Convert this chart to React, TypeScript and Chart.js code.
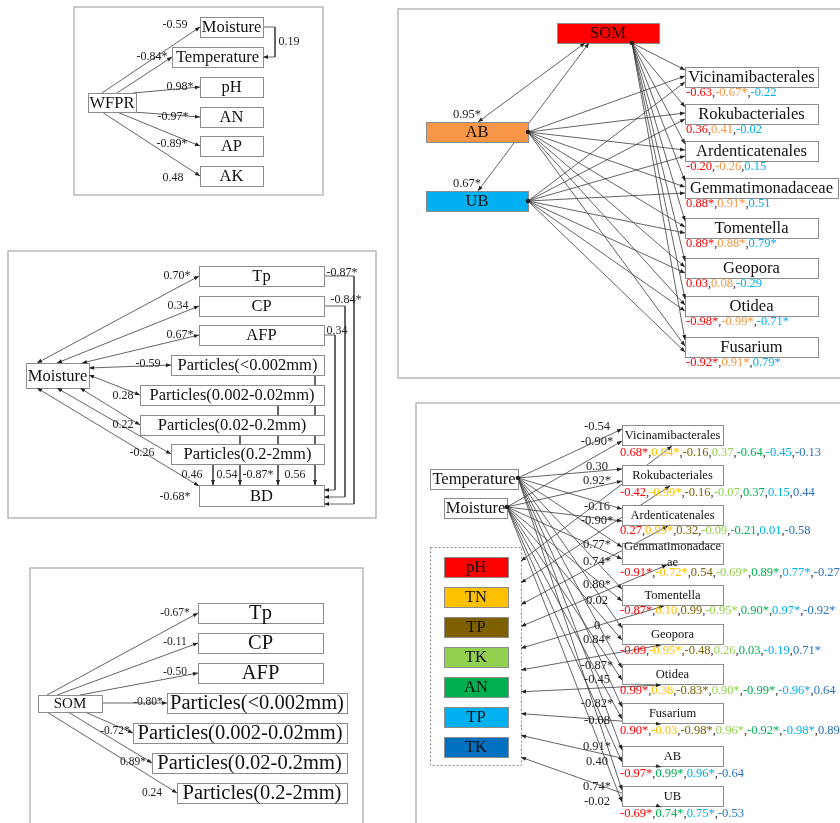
import React, { useEffect, useRef } from "react";
import { Chart, registerables } from "chart.js";

Chart.register(...registerables);

// ================= DATA =================
// Panel A: WFPR -> soil properties
const wfprTargets = ["Moisture", "Temperature", "pH", "AN", "AP", "AK"];
const wfprCoefs = ["-0.59", "-0.84*", "0.98*", "-0.97*", "-0.89*", "0.48"];
const moistureTemperatureCoef = "0.19";

// Panel B / C: soil structure variables
const structureVars = [
  "Tp",
  "CP",
  "AFP",
  "Particles(<0.002mm)",
  "Particles(0.002-0.02mm)",
  "Particles(0.02-0.2mm)",
  "Particles(0.2-2mm)",
];
const moistureStructCoefs = ["0.70*", "0.34", "0.67*", "-0.59", "0.28", "0.22", "-0.26"];
const structBDCoefs = ["-0.87*", "-0.84*", "0.34", "0.56", "-0.87*", "0.54", "0.46"];
const moistureBDCoef = "-0.68*";
const somStructCoefs = ["-0.67*", "-0.11", "-0.50", "-0.80*", "-0.72*", "0.89*", "0.24"];

// Panel D: SOM / AB / UB -> taxa
const taxa = [
  "Vicinamibacterales",
  "Rokubacteriales",
  "Ardenticatenales",
  "Gemmatimonadaceae",
  "Tomentella",
  "Geopora",
  "Otidea",
  "Fusarium",
];
const somTaxaCoefs = ["-0.63", "0.36", "-0.20", "0.88*", "0.89*", "0.03", "-0.98*", "-0.92*"];
const abTaxaCoefs = ["-0.67*", "0.41", "-0.26", "0.91*", "0.88*", "0.08", "-0.99*", "0.91*"];
const ubTaxaCoefs = ["-0.22", "-0.02", "0.15", "0.51", "0.79*", "-0.29", "-0.71*", "0.79*"];
const somABCoef = "0.95*";
const somUBCoef = "0.67*";

// Panel E: Temperature / Moisture / soil nutrients -> taxa, AB, UB
const envTargets = [
  "Vicinamibacterales",
  "Rokubacteriales",
  "Ardenticatenales",
  "Gemmatimonadaceae",
  "Tomentella",
  "Geopora",
  "Otidea",
  "Fusarium",
  "AB",
  "UB",
];
const temperatureEnvCoefs = ["-0.54", "0.30", "-0.16", "0.77*", "0.80*", "0", "-0.87*", "-0.82*", "0.91*", "0.74*"];
const moistureEnvCoefs = ["-0.90*", "0.92*", "-0.90*", "0.74*", "0.02", "0.84*", "-0.45", "-0.08", "0.40", "-0.02"];
const soilFactors = ["pH", "TN", "TP", "TK", "AN", "TP", "TK"];
const pHCoefs = ["0.68*", "-0.42", "0.27", "-0.91*", "-0.87*", "-0.09", "0.99*", "0.90*", "-0.97*", "-0.69*"];
const tnCoefs = ["0.94*", "-0.99*", "0.99*", "-0.72*", "0.10", "-0.95*", "0.38", "-0.03", null, null];
const tpCoefs = ["-0.16", "-0.16", "0.32", "0.54", "0.99", "-0.48", "-0.83*", "-0.98*", null, null];
const tkCoefs = ["0.37", "-0.07", "-0.09", "-0.69*", "-0.95*", "0.26", "0.90*", "0.96*", null, null];
const anCoefs = ["-0.64", "0.37", "-0.21", "0.89*", "0.90*", "0.03", "-0.99*", "-0.92*", "0.99*", "0.74*"];
const availTPCoefs = ["-0.45", "0.15", "0.01", "0.77*", "0.97*", "-0.19", "-0.96*", "-0.98*", "0.96*", "0.75*"];
const availTKCoefs = ["-0.13", "0.44", "-0.58", "-0.27", "-0.92*", "0.71*", "0.64", "0.89", "-0.64", "-0.53"];

// ================= STYLE / LAYOUT =================
const SERIF = '"Liberation Serif", "Times New Roman", serif';
const LINE = "#3c3c3c";
const BOX_STROKE = "#8c8c8c";
const FRAME = "#bdbdbd";
const COMMA = "#333333";
const factorFill = ["#FF0000", "#FFC000", "#7F6000", "#92D050", "#00B050", "#00B0F0", "#0070C0"];
const factorText = ["#FF0000", "#FFC000", "#7F6000", "#92D050", "#00B050", "#00B0F0", "#2A72C0"];
const somColor = "#FF0000";
const abColor = "#F79646";
const ubColor = "#00B0F0";

type Pt = number[];
type Edge = { pts: Pt[]; end?: boolean; start?: boolean };
type Box = { r: number[]; text: string; font: number; fill?: string; lines?: { t: string; dy: number }[] };
type Txt = { x: number; y: number; text: string; font: number; color?: string; align?: CanvasTextAlign };
type Run = { x: number; y: number; font: number; parts: { t: string; c: string }[] };

function buildDiagram() {
  const edges: Edge[] = [];
  const boxes: Box[] = [];
  const texts: Txt[] = [];
  const runs: Run[] = [];
  const dots: Pt[] = [];
  const frames = [
    [74, 7, 249, 188],
    [8, 251, 368, 267],
    [30, 568, 333, 300],
    [398, 9, 460, 369],
    [416, 403, 460, 460],
  ];

  // ---------- Panel 1 ----------
  const p1Targets = [
    [200, 17, 63, 20],
    [172, 47, 91, 20],
    [200, 77, 63, 20],
    [200, 107, 63, 20],
    [200, 136, 63, 20],
    [200, 166, 63, 20],
  ];
  const p1Starts = [[102, 93], [117, 93], [133, 93], [133, 112], [117, 112], [102, 112]];
  const p1Labels = [[175, 25], [152, 57], [180, 87], [173, 117], [172, 144], [173, 178]];
  boxes.push({ r: [88, 93, 48, 19], text: "WFPR", font: 16.5 });
  wfprTargets.forEach((name, i) => {
    const r = p1Targets[i];
    boxes.push({ r, text: name, font: 16.5 });
    edges.push({ pts: [p1Starts[i], [r[0], r[1] + r[3] / 2]], end: true });
    texts.push({ x: p1Labels[i][0], y: p1Labels[i][1], text: wfprCoefs[i], font: 12 });
  });
  edges.push({ pts: [[263, 27], [275, 27], [275, 57], [263, 57]], end: true });
  texts.push({ x: 289, y: 42, text: moistureTemperatureCoef, font: 12 });

  // ---------- Panel 2 ----------
  const p2Boxes = [
    [199, 266, 125, 20],
    [199, 296, 125, 20],
    [199, 325, 125, 20],
    [171, 355, 153, 20],
    [140, 385, 184, 20],
    [140, 415, 184, 20],
    [171, 444, 153, 20],
  ];
  const p2MoistEnds = [[37, 363], [57, 363], [82, 363], [89, 368], [89, 375], [80, 388], [57, 388]];
  const p2Labels = [[177, 276], [178, 306], [180, 335], [148, 364], [123, 396], [123, 425], [142, 453]];
  const moist2 = [26, 363, 63, 25];
  const bd = [199, 485, 125, 21];
  boxes.push({ r: moist2, text: "Moisture", font: 16.5 });
  boxes.push({ r: bd, text: "BD", font: 16.5 });
  structureVars.forEach((name, i) => {
    const r = p2Boxes[i];
    boxes.push({ r, text: name, font: 16.5 });
    edges.push({ pts: [[r[0], r[1] + r[3] / 2], p2MoistEnds[i]], end: true, start: true });
    texts.push({ x: p2Labels[i][0], y: p2Labels[i][1], text: moistureStructCoefs[i], font: 12 });
  });
  edges.push({ pts: [[199, 486], [37, 388]], end: true, start: true });
  texts.push({ x: 175, y: 497, text: moistureBDCoef, font: 12 });
  // porosity -> BD connectors
  const p2Right = [[354, 504], [345, 497], [335, 490]];
  const p2RightLabels = [[342, 273], [346, 300], [337, 331]];
  for (let i = 0; i < 3; i++) {
    const r = p2Boxes[i];
    const cy = r[1] + r[3] / 2;
    const [vx, by] = p2Right[i];
    edges.push({ pts: [[324, cy], [vx, cy], [vx, by], [324, by]], end: true });
    texts.push({ x: p2RightLabels[i][0], y: p2RightLabels[i][1], text: structBDCoefs[i], font: 12 });
  }
  // particles -> BD
  const p2Vert = [315, 278, 240, 213];
  const p2VertLabels = [295, 258, 227, 192];
  for (let k = 0; k < 4; k++) {
    const r = p2Boxes[3 + k];
    edges.push({ pts: [[p2Vert[k], r[1] + r[3]], [p2Vert[k], 485]], end: true });
    texts.push({ x: p2VertLabels[k], y: 475, text: structBDCoefs[3 + k], font: 12 });
  }

  // ---------- Panel 3 ----------
  const p3Boxes = [
    [198, 603, 125, 20],
    [198, 633, 125, 20],
    [198, 663, 125, 20],
    [167, 693, 180, 20],
    [133, 723, 214, 20],
    [152, 753, 195, 20],
    [177, 783, 170, 20],
  ];
  const p3Starts = [[47, 695], [57, 695], [80, 695], [102, 703], [85, 712], [68, 712], [47, 712]];
  const p3Labels = [[175, 613], [175, 642], [175, 672], [148, 702], [115, 731], [133, 762], [152, 793]];
  boxes.push({ r: [38, 695, 64, 17], text: "SOM", font: 15 });
  structureVars.forEach((name, i) => {
    const r = p3Boxes[i];
    boxes.push({ r, text: name, font: 20.5 });
    edges.push({ pts: [p3Starts[i], [r[0], r[1] + r[3] / 2]], end: true });
    texts.push({ x: p3Labels[i][0], y: p3Labels[i][1], text: somStructCoefs[i], font: 11.5 });
  });

  // ---------- Panel 4 ----------
  const taxaTops4 = [67, 104, 141, 178, 218, 258, 296, 337];
  boxes.push({ r: [557, 23, 102, 20], text: "SOM", font: 16.5, fill: somColor });
  boxes.push({ r: [426, 122, 102, 20], text: "AB", font: 16.5, fill: abColor });
  boxes.push({ r: [426, 191, 102, 20], text: "UB", font: 16.5, fill: ubColor });
  edges.push({ pts: [[478, 122], [585, 43]], end: true, start: true });
  edges.push({ pts: [[478, 191], [589, 43]], end: true, start: true });
  texts.push({ x: 467, y: 115, text: somABCoef, font: 12.5 });
  texts.push({ x: 467, y: 184, text: somUBCoef, font: 12.5 });
  dots.push([632, 43], [528, 132], [528, 201]);
  taxa.forEach((name, i) => {
    const top = taxaTops4[i];
    const w = name === "Gemmatimonadaceae" ? 153 : 133;
    boxes.push({ r: [685, top, w, 20], text: name, font: 16.5 });
    edges.push({ pts: [[632, 43], [685, top + 3]], end: true });
    edges.push({ pts: [[528, 132], [685, top + 9]], end: true });
    edges.push({ pts: [[528, 201], [685, top + 15]], end: true });
    runs.push({
      x: 686,
      y: top + 26,
      font: 12.5,
      parts: [
        { t: somTaxaCoefs[i], c: somColor },
        { t: ",", c: COMMA },
        { t: abTaxaCoefs[i], c: abColor },
        { t: ",", c: COMMA },
        { t: ubTaxaCoefs[i], c: ubColor },
      ],
    });
  });

  // ---------- Panel 5 ----------
  const tops5 = [425, 465, 505, 543, 585, 624, 664, 703, 746, 786];
  const rowY5 = [453, 493, 531, 573, 611, 651, 691, 731, 774, 814];
  const tLabY = [427, 467, 507, 545, 585, 626, 666, 704, 747, 787];
  const mLabY = [442, 481, 521, 562, 601, 640, 680, 721, 762, 802];
  const legendEndX = [672, 670, 668, 667, 664, 661, 661, 661, 661, 661];
  boxes.push({ r: [430, 469, 88, 20], text: "Temperature", font: 16.5 });
  boxes.push({ r: [444, 498, 63, 20], text: "Moisture", font: 16.5 });
  dots.push([518, 478], [507, 507]);
  const factorSeries = [pHCoefs, tnCoefs, tpCoefs, tkCoefs, anCoefs, availTPCoefs, availTKCoefs];
  envTargets.forEach((name, i) => {
    const top = tops5[i];
    const h = name === "Gemmatimonadaceae" ? 21 : 20;
    if (name === "Gemmatimonadaceae") {
      boxes.push({
        r: [622, top, 101, h],
        text: name,
        font: 12.5,
        lines: [
          { t: "Gemmatimonadace", dy: 4 },
          { t: "ae", dy: 20 },
        ],
      });
    } else {
      boxes.push({ r: [622, top, 101, h], text: name, font: 12.5 });
    }
    edges.push({ pts: [[518, 478], [622, top + 4]], end: true });
    edges.push({ pts: [[507, 507], [622, top + 16]], end: true });
    texts.push({ x: 597, y: tLabY[i], text: temperatureEnvCoefs[i], font: 12.5 });
    texts.push({ x: 597, y: mLabY[i], text: moistureEnvCoefs[i], font: 12.5 });
    edges.push({ pts: [[521, 561 + 21.8 * i], [legendEndX[i], top + h + 1]], end: true, start: true });
    const parts: { t: string; c: string }[] = [];
    factorSeries.forEach((series, f) => {
      const v = series[i];
      if (v === null || v === undefined) return;
      if (parts.length) parts.push({ t: ",", c: COMMA });
      parts.push({ t: v, c: factorText[f] });
    });
    runs.push({ x: 620, y: rowY5[i], font: 12.5, parts });
  });
  soilFactors.forEach((name, f) => {
    boxes.push({ r: [444, 557 + 30 * f, 64, 20], text: name, font: 16.5, fill: factorFill[f] });
  });
  const legendFrame = [430, 547, 91, 218];

  return { edges, boxes, texts, runs, dots, frames, legendFrame };
}

export default function App() {
  const ref = useRef<HTMLCanvasElement>(null);

  useEffect(() => {
    const canvas = ref.current;
    if (!canvas) return;
    const d = buildDiagram();

    const diagramPlugin = {
      id: "pathDiagram",
      beforeDatasetsDraw(chart: any) {
        const ctx: CanvasRenderingContext2D = chart.ctx;
        const sx = chart.scales.x;
        const sy = chart.scales.y;
        const X = (v: number) => sx.getPixelForValue(v);
        const Y = (v: number) => sy.getPixelForValue(v);
        ctx.save();
        ctx.fillStyle = "#ffffff";
        ctx.fillRect(0, 0, chart.width, chart.height);
        ctx.strokeStyle = FRAME;
        ctx.lineWidth = 1.6;
        d.frames.forEach((f) => {
          ctx.strokeRect(X(f[0]), Y(f[1]), X(f[0] + f[2]) - X(f[0]), Y(f[1] + f[3]) - Y(f[1]));
        });
        ctx.restore();
      },
      afterDatasetsDraw(chart: any) {
        const ctx: CanvasRenderingContext2D = chart.ctx;
        const sx = chart.scales.x;
        const sy = chart.scales.y;
        const X = (v: number) => sx.getPixelForValue(v);
        const Y = (v: number) => sy.getPixelForValue(v);
        ctx.save();

        // legend dotted frame
        const lf = d.legendFrame;
        ctx.setLineDash([2, 2]);
        ctx.strokeStyle = "#8a8a8a";
        ctx.lineWidth = 1;
        ctx.strokeRect(X(lf[0]) + 0.5, Y(lf[1]) + 0.5, X(lf[0] + lf[2]) - X(lf[0]), Y(lf[1] + lf[3]) - Y(lf[1]));
        ctx.setLineDash([]);

        // boxes
        d.boxes.forEach((b) => {
          const [x, y, w, h] = b.r;
          const px = Math.round(X(x)) + 0.5;
          const py = Math.round(Y(y)) + 0.5;
          const pw = Math.round(X(x + w) - X(x));
          const ph = Math.round(Y(y + h) - Y(y));
          ctx.fillStyle = b.fill || "#ffffff";
          ctx.fillRect(px, py, pw, ph);
          ctx.strokeStyle = BOX_STROKE;
          ctx.lineWidth = 1;
          ctx.strokeRect(px, py, pw, ph);
          ctx.fillStyle = "#111111";
          ctx.font = `${b.font}px ${SERIF}`;
          ctx.textAlign = "center";
          ctx.textBaseline = "middle";
          const cx = X(x + w / 2);
          if (b.lines) {
            b.lines.forEach((ln) => ctx.fillText(ln.t, cx, Y(y + ln.dy)));
          } else {
            ctx.fillText(b.text, cx, Y(y + h / 2) + 1);
          }
        });

        // arrowheads
        const head = (from: Pt, to: Pt) => {
          const x1 = X(from[0]);
          const y1 = Y(from[1]);
          const x2 = X(to[0]);
          const y2 = Y(to[1]);
          const dx = x2 - x1;
          const dy = y2 - y1;
          const len = Math.hypot(dx, dy) || 1;
          const ux = dx / len;
          const uy = dy / len;
          const L = 5;
          const W = 2;
          ctx.beginPath();
          ctx.moveTo(x2, y2);
          ctx.lineTo(x2 - ux * L - uy * W, y2 - uy * L + ux * W);
          ctx.lineTo(x2 - ux * L + uy * W, y2 - uy * L - ux * W);
          ctx.closePath();
          ctx.fill();
        };
        ctx.fillStyle = "#222222";
        d.edges.forEach((e) => {
          const n = e.pts.length;
          if (e.end) head(e.pts[n - 2], e.pts[n - 1]);
          if (e.start) head(e.pts[1], e.pts[0]);
        });
        d.dots.forEach((p) => {
          ctx.beginPath();
          ctx.arc(X(p[0]), Y(p[1]), 2.3, 0, Math.PI * 2);
          ctx.fill();
        });

        // coefficient labels
        d.texts.forEach((t) => {
          ctx.font = `${t.font}px ${SERIF}`;
          ctx.fillStyle = t.color || "#222222";
          ctx.textAlign = t.align || "center";
          ctx.textBaseline = "middle";
          ctx.fillText(t.text, X(t.x), Y(t.y));
        });

        // coloured coefficient rows
        d.runs.forEach((r) => {
          ctx.font = `${r.font}px ${SERIF}`;
          ctx.textAlign = "left";
          ctx.textBaseline = "middle";
          let cx = X(r.x);
          r.parts.forEach((p) => {
            ctx.fillStyle = p.c;
            ctx.fillText(p.t, cx, Y(r.y));
            cx += ctx.measureText(p.t).width;
          });
        });
        ctx.restore();
      },
    };

    const datasets = d.edges.map((e) => ({
      data: e.pts.map((p) => ({ x: p[0], y: p[1] })),
      showLine: true,
      borderColor: LINE,
      borderWidth: 0.8,
      pointRadius: 0,
      pointHoverRadius: 0,
      fill: false,
      tension: 0,
      clip: false as any,
    }));

    const chart = new Chart(canvas, {
      type: "scatter",
      data: { datasets },
      options: {
        responsive: false,
        animation: false,
        devicePixelRatio: 1,
        events: [],
        layout: { padding: 0 },
        plugins: { legend: { display: false }, tooltip: { enabled: false } },
        scales: {
          x: { type: "linear", min: 0, max: 840, display: false },
          y: { type: "linear", min: 0, max: 823, reverse: true, display: false },
        },
      },
      plugins: [diagramPlugin],
    });
    return () => chart.destroy();
  }, []);

  return (
    <div style={{ position: "absolute", left: 0, top: 0, width: 840, height: 823, background: "#ffffff" }}>
      <canvas ref={ref} width={840} height={823} style={{ display: "block", width: 840, height: 823 }} />
    </div>
  );
}
